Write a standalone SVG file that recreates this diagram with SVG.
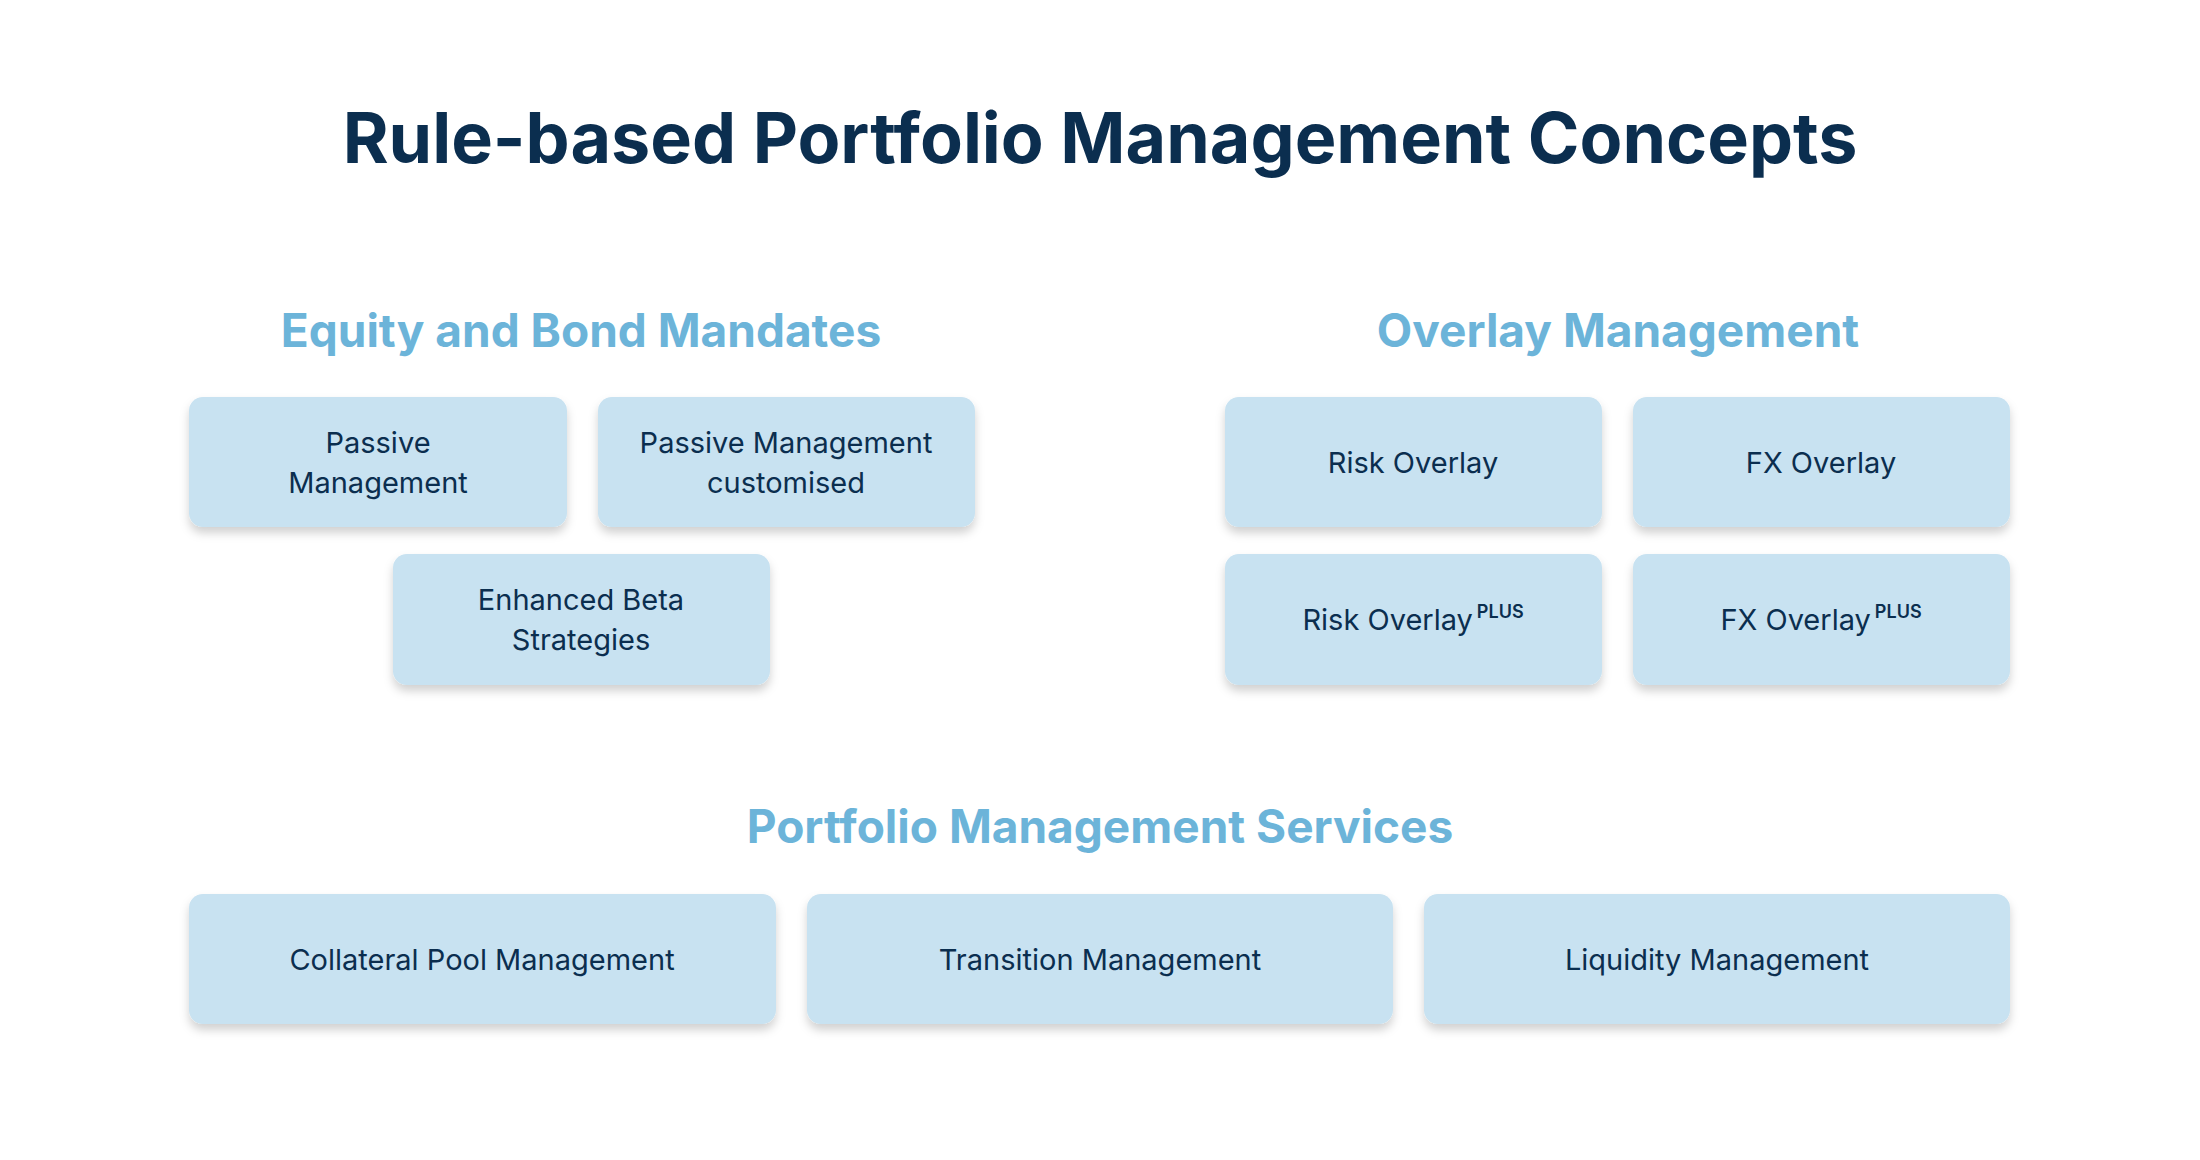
<svg xmlns="http://www.w3.org/2000/svg" width="2200" height="1160" viewBox="0 0 2200 1160">
<defs>
<filter id="sh" x="-10%" y="-10%" width="120%" height="140%"><feDropShadow dx="0" dy="6" stdDeviation="5" flood-color="#000" flood-opacity="0.18"/></filter>
<style>
.box{fill:#c8e2f1;filter:url(#sh)}
.t{font-family:Inter,"Liberation Sans",sans-serif;font-size:29px;fill:#0b2e4f;text-anchor:middle}
.s{font-size:18px;font-weight:600}
.h{font-family:Inter,"Liberation Sans",sans-serif;font-size:46px;font-weight:700;fill:#6cb4d9;text-anchor:middle}
</style>
</defs>
<rect width="2200" height="1160" fill="#fff"/>
<text x="1100" y="163" font-family="Inter,'Liberation Sans',sans-serif" font-size="70" font-weight="700" fill="#0b2e4f" text-anchor="middle">Rule-based Portfolio Management Concepts</text>
<text class="h" x="581" y="347">Equity and Bond Mandates</text>
<text class="h" x="1618" y="347">Overlay Management</text>
<text class="h" x="1100" y="843">Portfolio Management Services</text>
<g id="n1"><rect class="box" x="189" y="397" width="378" height="130" rx="14"/><text class="t" x="378" y="453">Passive</text><text class="t" x="378" y="493">Management</text></g>
<g id="n2"><rect class="box" x="598" y="397" width="377" height="130" rx="14"/><text class="t" x="786" y="453">Passive Management</text><text class="t" x="786" y="493">customised</text></g>
<g id="n3"><rect class="box" x="393" y="554" width="377" height="131" rx="14"/><text class="t" x="581" y="610">Enhanced Beta</text><text class="t" x="581" y="650">Strategies</text></g>
<g id="n4"><rect class="box" x="1225" y="397" width="377" height="130" rx="14"/><text class="t" x="1413" y="473">Risk Overlay</text></g>
<g id="n5"><rect class="box" x="1633" y="397" width="377" height="130" rx="14"/><text class="t" x="1821" y="473">FX Overlay</text></g>
<g id="n6"><rect class="box" x="1225" y="554" width="377" height="131" rx="14"/><text class="t" x="1413" y="630">Risk Overlay<tspan class="s" dx="4" dy="-12">PLUS</tspan></text></g>
<g id="n7"><rect class="box" x="1633" y="554" width="377" height="131" rx="14"/><text class="t" x="1821" y="630">FX Overlay<tspan class="s" dx="4" dy="-12">PLUS</tspan></text></g>
<g id="n8"><rect class="box" x="189" y="894" width="587" height="130" rx="14"/><text class="t" x="482" y="970">Collateral Pool Management</text></g>
<g id="n9"><rect class="box" x="807" y="894" width="586" height="130" rx="14"/><text class="t" x="1100" y="970">Transition Management</text></g>
<g id="n10"><rect class="box" x="1424" y="894" width="586" height="130" rx="14"/><text class="t" x="1717" y="970">Liquidity Management</text></g>
<g id="connectors"/>
</svg>
